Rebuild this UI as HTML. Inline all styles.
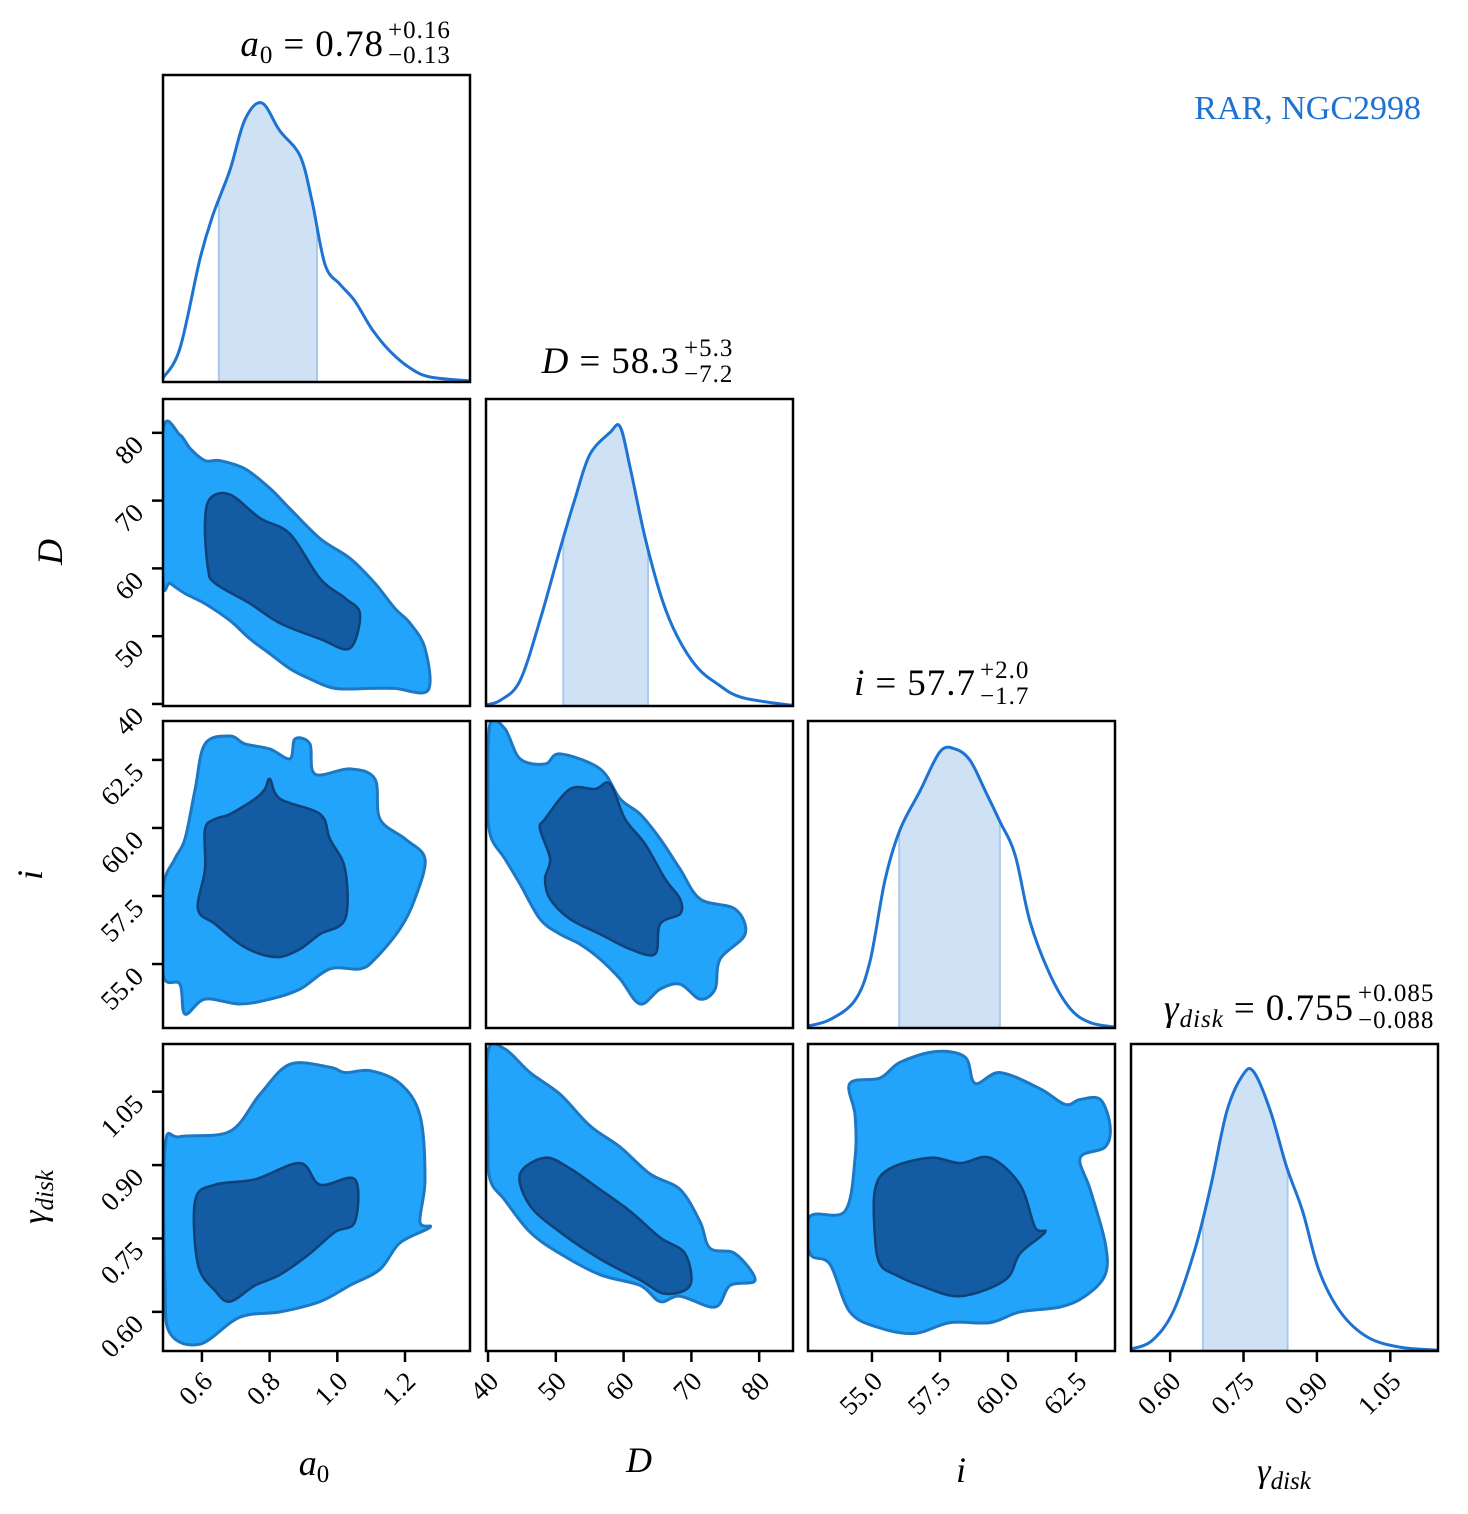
<!DOCTYPE html>
<html><head><meta charset="utf-8"><style>
html,body{margin:0;padding:0;background:#fff}
svg{display:block}
text{font-family:"Liberation Serif","DejaVu Serif",serif;fill:#000}
.it{font-style:italic}
</style></head><body>
<svg id="fig" width="1468" height="1514" viewBox="0 0 1468 1514" xmlns="http://www.w3.org/2000/svg">
<g id="layer"></g>
<text x="1421" y="119" text-anchor="end" font-size="34" style="fill:#1e73d2">RAR, NGC2998</text>
<g>
<text x="384" y="56" text-anchor="end" font-size="37" letter-spacing="1"><tspan class="it">a</tspan><tspan font-size="25" dy="7">0</tspan><tspan dy="-7" dx="10">=</tspan><tspan dx="10">0.78</tspan></text>
<text x="388" y="38" font-size="25" letter-spacing="1">+0.16</text><text x="388" y="63" font-size="25" letter-spacing="1">−0.13</text></g>
<g>
<text x="680" y="373" text-anchor="end" font-size="37" letter-spacing="1"><tspan class="it">D</tspan><tspan dx="10">=</tspan><tspan dx="10">58.3</tspan></text>
<text x="684" y="356" font-size="25" letter-spacing="1">+5.3</text><text x="684" y="382" font-size="25" letter-spacing="1">−7.2</text></g>
<g>
<text x="976" y="695" text-anchor="end" font-size="37" letter-spacing="1"><tspan class="it">i</tspan><tspan dx="10">=</tspan><tspan dx="10">57.7</tspan></text>
<text x="980" y="678" font-size="25" letter-spacing="1">+2.0</text><text x="980" y="704" font-size="25" letter-spacing="1">−1.7</text></g>
<g>
<text x="1354" y="1020" text-anchor="end" font-size="37" letter-spacing="1"><tspan class="it">γ</tspan><tspan class="it" font-size="25" dy="7">disk</tspan><tspan dy="-7" dx="10">=</tspan><tspan dx="10">0.755</tspan></text>
<text x="1358" y="1001" font-size="25" letter-spacing="1">+0.085</text><text x="1358" y="1028" font-size="25" letter-spacing="1">−0.088</text></g>
<text x="314" y="1475" text-anchor="middle" font-size="36"><tspan class="it">a</tspan><tspan font-size="25" dy="7">0</tspan></text>
<text x="639" y="1472" text-anchor="middle" font-size="36" class="it">D</text>
<text x="961" y="1482" text-anchor="middle" font-size="36" class="it">i</text>
<text x="1284" y="1482" text-anchor="middle" font-size="34"><tspan class="it">γ</tspan><tspan class="it" font-size="25" dy="7">disk</tspan></text>
<text transform="translate(62,552) rotate(-90)" text-anchor="middle" font-size="36" class="it">D</text>
<text transform="translate(42,875) rotate(-90)" text-anchor="middle" font-size="36" class="it">i</text>
<text transform="translate(46,1197) rotate(-90)" text-anchor="middle" font-size="34"><tspan class="it">γ</tspan><tspan class="it" font-size="25" dy="7">disk</tspan></text>
</svg>
<script>
// ---- data ----
const paramNames = ["a0","D","i","gamma"];
const a0Grid = [0.485,0.535,0.594,0.633,0.683,0.727,0.777,0.830,0.890,0.925,0.964,1.008,1.052,1.102,1.156,1.215,1.274,1.39];
const a0Dens = [0.014,0.12,0.44,0.6,0.76,0.94,1.0,0.90,0.81,0.65,0.42,0.35,0.29,0.19,0.11,0.05,0.018,0.004];
const dGrid = [39.7,41.8,44.7,47.7,50.6,52.8,55.0,58.0,59.5,61.0,63.2,65.7,67.9,70.8,73.8,77.5,85];
const dDens = [0.004,0.02,0.09,0.31,0.56,0.74,0.90,0.98,1.0,0.85,0.6,0.38,0.25,0.14,0.08,0.03,0.002];
const iGrid = [52.65,53.46,54.38,54.93,55.48,56.03,56.77,57.5,58.05,58.6,59.16,59.7,60.26,60.81,61.55,62.28,63.0,63.93];
const iDens = [0.007,0.03,0.10,0.24,0.53,0.71,0.85,0.99,1.0,0.96,0.85,0.74,0.62,0.38,0.19,0.07,0.02,0.003];
const gGrid = [0.52,0.562,0.606,0.650,0.683,0.716,0.749,0.771,0.805,0.838,0.871,0.904,0.948,1.003,1.069,1.147];
const gDens = [0.007,0.036,0.14,0.36,0.59,0.86,0.99,1.0,0.86,0.66,0.50,0.29,0.14,0.05,0.014,0.003];
const credLo = [0.65,51.1,56.0,0.667];
const credHi = [0.94,63.6,59.7,0.84];
const ticksA0 = [0.6,0.8,1.0,1.2], tickLblA0=["0.6","0.8","1.0","1.2"];
const ticksD = [40,50,60,70,80], tickLblD=["40","50","60","70","80"];
const ticksI = [55,57.5,60,62.5], tickLblI=["55.0","57.5","60.0","62.5"];
const ticksG = [0.6,0.75,0.9,1.05], tickLblG=["0.60","0.75","0.90","1.05"];
// contours [x values],[y values]
const c_a0D_out_x=[.485,.535,.565,.609,.653,.727,.801,.860,.949,1.037,1.111,1.170,1.215,1.259,1.268,1.170,1.097,.993,.919,.860,.801,.742,.683,.609,.550,.506,.485];
const c_a0D_out_y=[80.2,79.7,77.7,75.9,75.9,74.7,71.8,68.8,64.4,61.5,57.8,54.1,51.9,48.2,42.0,42.3,42.3,42.3,43.7,45.2,47.4,49.6,52.3,54.8,56.3,57.8,58.5];
const c_a0D_in_x=[.609,.624,.683,.772,.860,.949,1.023,1.067,1.037,.949,.831,.742,.639,.618];
const c_a0D_in_y=[66.6,70.3,70.9,67.4,65.1,58.5,55.6,53.3,48.2,49.6,51.9,54.8,57.8,60.0];
const c_a0I_out_x=[.485,.520,.550,.580,.609,.683,.727,.801,.860,.875,.919,.934,1.037,1.111,1.126,1.200,1.259,1.229,1.185,1.111,1.067,.978,.890,.801,.712,.609,.550,.535,.485];
const c_a0I_out_y=[57.76,58.86,59.6,61.43,63.09,63.38,63.09,62.9,62.54,63.27,63.09,61.98,62.17,61.8,60.33,59.6,58.86,57.39,56.29,55.18,54.82,54.82,54.08,53.71,53.53,53.71,53.16,54.26,54.63];
const c_a0I_in_x=[.609,.639,.683,.757,.786,.801,.831,.949,.978,1.023,1.023,.949,.890,.831,.772,.712,.639,.588,.609];
const c_a0I_in_y=[59.96,60.33,60.51,61.07,61.43,61.8,61.07,60.51,59.6,58.49,56.65,56.1,55.55,55.26,55.37,55.73,56.47,57.02,58.49];
const c_DI_out_x=[40.29,42.5,44.72,48.41,50.62,56.53,59.48,62.43,65.38,68.33,71.29,76.45,77.93,74.24,73.5,71.29,68.33,65.38,62.43,59.48,56.53,53.57,50.62,47.67,44.72,42.5,40.29,40.0];
const c_DI_out_y=[63.82,63.64,62.54,62.35,62.72,62.17,61.07,60.51,59.6,58.49,57.39,57.02,56.1,55.18,54.08,53.71,54.26,54.08,53.53,54.45,55.18,55.73,56.1,56.65,57.94,58.86,59.78,61.43];
const c_DI_in_x=[48.41,52.1,55.79,58.0,60.22,63.17,66.12,68.33,68.33,65.38,64.64,60.95,56.53,52.1,49.15,48.41,49.15,47.67];
const c_DI_in_y=[60.33,61.43,61.43,61.62,60.33,59.41,58.13,57.39,56.84,56.47,55.37,55.55,56.1,56.65,57.39,58.13,58.86,59.96];
const c_a0G_out_x=[.491,.535,.683,.772,.860,.978,1.023,1.097,1.185,1.244,1.259,1.244,1.274,1.185,1.126,1.037,.949,.831,.712,.594,.506,.491];
const c_a0G_out_y=[.937,.958,.969,1.045,1.106,1.100,1.089,1.093,1.067,1.002,.871,.784,.773,.741,.687,.654,.621,.6,.589,.534,.556,.654];
const c_a0G_in_x=[.580,.639,.757,.890,.949,1.052,1.052,.993,.919,.831,.757,.683,.639,.588];
const c_a0G_in_y=[.828,.860,.871,.904,.860,.871,.784,.763,.719,.676,.654,.621,.643,.697];
const c_DG_out_x=[40.0,42.5,46.19,50.62,55.05,59.48,63.9,68.33,71.29,72.76,76.45,79.4,75.71,73.5,68.33,65.38,62.43,56.53,50.62,46.19,42.5,40.29,40.0];
const c_DG_out_y=[1.132,1.137,1.089,1.045,.980,.937,.882,.850,.784,.730,.719,.665,.654,.610,.632,.621,.654,.676,.719,.763,.828,.871,.958];
const c_DG_in_x=[44.72,48.41,52.1,56.53,60.95,65.38,69.07,69.81,66.12,62.43,56.53,50.62,46.19];
const c_DG_in_y=[.882,.915,.893,.850,.806,.752,.719,.654,.637,.665,.708,.763,.817];
const c_IG_out_x=[54.19,55.30,56.03,57.32,58.42,58.79,59.71,61.18,62.1,62.65,63.39,63.75,63.57,62.65,63.02,63.57,63.57,62.83,61.91,60.44,59.34,57.87,56.58,55.30,54.19,53.46,52.72,52.72,54.01,54.38,54.38];
const c_IG_out_y=[1.067,1.078,1.11,1.132,1.121,1.067,1.089,1.056,1.024,1.034,1.034,.98,.937,.915,.85,.741,.676,.632,.61,.6,.578,.578,.556,.567,.6,.697,.719,.795,.806,.915,1.002];
const c_IG_in_x=[55.11,55.66,57.14,58.24,59.34,60.44,60.99,61.36,60.44,59.89,58.24,56.77,55.85,55.30,55.11];
const c_IG_in_y=[.85,.893,.915,.904,.915,.860,.773,.763,.719,.665,.632,.654,.676,.697,.752];

// ---- layout ----
const colX=[163,486,808,1131], rowY=[75,399,721,1044], W=307, H=307;
const ranges=[[0.485,1.392],[39.7,84.99],[52.65,63.93],[0.52,1.1475]];
function sx(p,v,c){const r=ranges[p];return colX[c]+(v-r[0])/(r[1]-r[0])*W;}
function sy(p,v,r){const q=ranges[p];return rowY[r]+H-(v-q[0])/(q[1]-q[0])*H;}
const NS="http://www.w3.org/2000/svg";
const layer=document.getElementById('layer');
function mk(tag,attrs,parent){const e=document.createElementNS(NS,tag);for(const k in attrs)e.setAttribute(k,attrs[k]);(parent||layer).appendChild(e);return e;}
function smooth(pts,closed){
  const n=pts.length;let d="M"+pts[0][0].toFixed(1)+","+pts[0][1].toFixed(1);
  const cnt=closed?n:n-1;
  for(let k=0;k<cnt;k++){
    const p0=pts[(k-1+n)%n],p1=pts[k],p2=pts[(k+1)%n],p3=pts[(k+2)%n];
    const a=closed||k>0?p0:p1, b=closed||k<n-2?p3:p2;
    const c1=[p1[0]+(p2[0]-a[0])/6,p1[1]+(p2[1]-a[1])/6];
    const c2=[p2[0]-(b[0]-p1[0])/6,p2[1]-(b[1]-p1[1])/6];
    d+="C"+c1.map(v=>v.toFixed(1))+" "+c2.map(v=>v.toFixed(1))+" "+p2[0].toFixed(1)+","+p2[1].toFixed(1);
  }
  return d+(closed?"Z":"");
}
// 1D panels
const grids=[a0Grid,dGrid,iGrid,gGrid], dens=[a0Dens,dDens,iDens,gDens];
const names1d=["a0","D","i","gamma"];
for(let p=0;p<4;p++){
  const base=rowY[p]+H, top=H/1.1;
  const pts=grids[p].map((v,k)=>[sx(p,v,p),base-dens[p][k]*top]);
  const g=mk('g',{});
  
  
  const clipId='clip'+p;
  const cp=mk('clipPath',{id:clipId},g);
  mk('rect',{x:sx(p,credLo[p],p),y:rowY[p],width:sx(p,credHi[p],p)-sx(p,credLo[p],p),height:H},cp);
  const d=smooth(pts,false);
  const sh=mk('path',{d:d+"L"+pts[pts.length-1][0]+","+base+"L"+pts[0][0]+","+base+"Z",fill:'#cfe2f5','clip-path':'url(#'+clipId+')'},g);
  
  
  [credLo[p],credHi[p]].forEach(v=>{
    const k=grids[p].findIndex(x=>x>=v);const t=(v-grids[p][k-1])/(grids[p][k]-grids[p][k-1]);
    const dv=dens[p][k-1]+t*(dens[p][k]-dens[p][k-1]);
    mk('line',{x1:sx(p,v,p),x2:sx(p,v,p),y1:base,y2:base-dv*top,stroke:'#a9c9ee','stroke-width':2},g);
  });
  const ln=mk('path',{d:d,fill:'none',stroke:'#1e73d2','stroke-width':3},g);
  
  
}
// 2D panels
const contours=[
 [0,1,c_a0D_out_x,c_a0D_out_y,c_a0D_in_x,c_a0D_in_y],
 [0,2,c_a0I_out_x,c_a0I_out_y,c_a0I_in_x,c_a0I_in_y],
 [1,2,c_DI_out_x,c_DI_out_y,c_DI_in_x,c_DI_in_y],
 [0,3,c_a0G_out_x,c_a0G_out_y,c_a0G_in_x,c_a0G_in_y],
 [1,3,c_DG_out_x,c_DG_out_y,c_DG_in_x,c_DG_in_y],
 [2,3,c_IG_out_x,c_IG_out_y,c_IG_in_x,c_IG_in_y]];
contours.forEach(c=>{
  const [px,py,ox,oy,ix,iy]=c;
  const g=mk('g',{});
  
  
  const cid='cc'+px+py;
  const cp=mk('clipPath',{id:cid},g);
  mk('rect',{x:colX[px],y:rowY[py],width:W,height:H},cp);
  const op=ox.map((v,k)=>[sx(px,v,px),sy(py,oy[k],py)]);
  const ip=ix.map((v,k)=>[sx(px,v,px),sy(py,iy[k],py)]);
  const o=mk('path',{d:smooth(op,true),fill:'#23a4fb',stroke:'#1d78c4','stroke-width':3,'clip-path':'url(#'+cid+')'},g);
  
  
  const inn=mk('path',{d:smooth(ip,true),fill:'#135ba3',stroke:'#0f4176','stroke-width':2.5,'clip-path':'url(#'+cid+')'},g);
  
  
});
// frames
for(let r=0;r<4;r++)for(let c=0;c<=r;c++){
  const f=mk('rect',{x:colX[c],y:rowY[r],width:W,height:H,fill:'none',stroke:'#000','stroke-width':2.5});
  
  
}
// ticks
const tk=[ticksA0,ticksD,ticksI,ticksG], tl=[tickLblA0,tickLblD,tickLblI,tickLblG];
for(let p=0;p<4;p++){
  tk[p].forEach((v,k)=>{
    const x=sx(p,v,p), yb=rowY[3]+H;
    mk('line',{x1:x,x2:x,y1:yb,y2:yb+11,stroke:'#000','stroke-width':2.5});
    const t=mk('text',{transform:'translate('+(x+12)+','+(yb+32)+') rotate(-45)','text-anchor':'end','font-size':27});
    t.textContent=tl[p][k];
    
    
  });
}
for(let p=1;p<4;p++){
  tk[p].forEach((v,k)=>{
    const y=sy(p,v,p);
    mk('line',{x1:colX[0]-11,x2:colX[0],y1:y,y2:y,stroke:'#000','stroke-width':2.5});
    const t=mk('text',{transform:'translate('+(colX[0]-18)+','+(y+14)+') rotate(-45)','text-anchor':'end','font-size':27});
    t.textContent=tl[p][k];
    
    
  });
}
</script>
</body></html>
